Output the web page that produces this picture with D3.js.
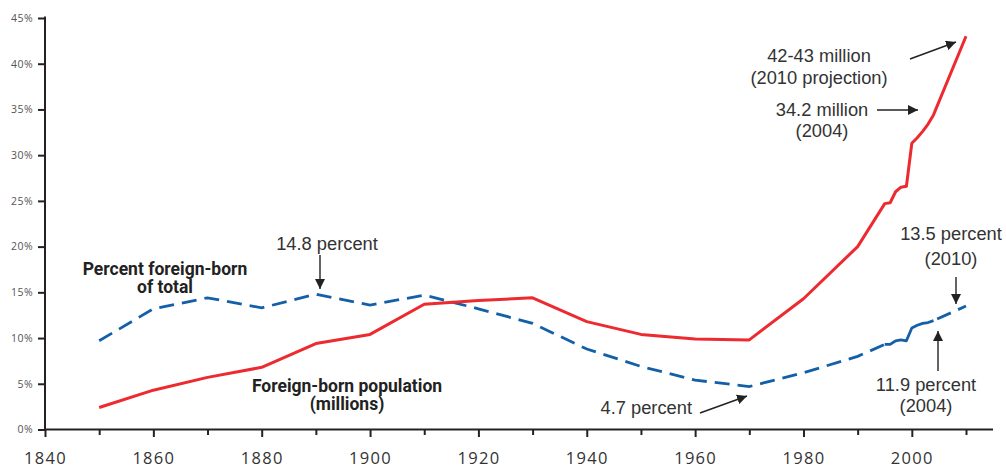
<!DOCTYPE html>
<html>
<head>
<meta charset="utf-8">
<script src="https://cdn.jsdelivr.net/npm/d3@7"></script>
<style>
  html, body { margin: 0; padding: 0; background: #fff; }
  svg { display: block; }
  .note { font-family: "Liberation Sans", Arial, sans-serif; font-size: 18.3px; fill: #333; }
  .series-label { font-family: Roboto, sans-serif; font-weight: 700; font-size: 17.5px; fill: #222; }
</style>
</head>
<body>
<svg id="chart" width="1006" height="467"></svg>
<script>
// decennial census years, then annual CPS estimates, then 2010 projection
const years = [1850, 1860, 1870, 1880, 1890, 1900, 1910, 1920, 1930, 1940, 1950, 1960, 1970, 1980, 1990,
  1995, 1996, 1997, 1998, 1999, 2000, 2001, 2002, 2003, 2004, 2010];

// foreign-born population, millions
const foreignBornMillions = [2.4, 4.3, 5.7, 6.8, 9.4, 10.4, 13.7, 14.1, 14.4, 11.8, 10.4, 9.9, 9.8, 14.3, 20.0,
  24.7, 24.8, 26.0, 26.5, 26.6, 31.3, 31.9, 32.6, 33.4, 34.4, 43.0];

// foreign-born share of total population, percent
const foreignBornPercent = [9.7, 13.2, 14.4, 13.3, 14.8, 13.6, 14.7, 13.2, 11.6, 8.8, 6.9, 5.4, 4.7, 6.2, 8.0,
  9.3, 9.3, 9.7, 9.8, 9.7, 11.1, 11.4, 11.6, 11.7, 11.9, 13.5];

// blue line is drawn solid only over the annual estimates
const solidFrom = 1995;
const solidTo = 2004;

const yTicks = [0, 5, 10, 15, 20, 25, 30, 35, 40, 45];
const xTicks = d3.range(1840, 2011, 10);

const svg = d3.select('#chart');

const x = d3.scaleLinear().domain([1840, 2010]).range([45, 966]);
const y = d3.scaleLinear().domain([0, 45]).range([429.5, 18]);

const rows = years.map((yr, i) => ({ year: yr, millions: foreignBornMillions[i], pct: foreignBornPercent[i] }));

// axes
const yAxis = d3.axisLeft(y)
  .tickValues(yTicks)
  .tickSize(7)
  .tickPadding(5)
  .tickFormat((d) => `${d}%`);

const gy = svg.append('g')
  .attr('transform', `translate(${x(1840)},0)`)
  .call(yAxis);
gy.select('.domain').remove();
gy.selectAll('.tick line').attr('stroke', '#222').attr('stroke-width', 2);
gy.selectAll('.tick text')
  .attr('fill', '#555')
  .style('font-family', '"Open Sans", sans-serif')
  .style('font-size', '10.5px')
  .style('letter-spacing', '0.4px');

const xAxis = d3.axisBottom(x)
  .tickValues(xTicks)
  .tickSize(7)
  .tickPadding(0)
  .tickFormat((d) => (d % 20 === 0 && d <= 2000 ? d : ''));

const gx = svg.append('g')
  .attr('transform', `translate(0,${y(0)})`)
  .call(xAxis);
gx.select('.domain').remove();
gx.selectAll('.tick line')
  .attr('stroke', '#222')
  .attr('stroke-width', 2)
  .attr('y2', (d) => (d % 20 === 0 ? 7.5 : 5.5));
gx.selectAll('.tick text')
  .attr('fill', '#333')
  .attr('y', 34)
  .attr('dy', 0)
  .style('font-family', '"Open Sans", sans-serif')
  .style('font-size', '16.5px')
  .style('letter-spacing', '1.3px');

// axis lines
svg.append('line')
  .attr('x1', x(1840) - 1).attr('x2', 993)
  .attr('y1', y(0)).attr('y2', y(0))
  .attr('stroke', '#222').attr('stroke-width', 2);
svg.append('line')
  .attr('x1', x(1840)).attr('x2', x(1840))
  .attr('y1', y(45) - 1.5).attr('y2', y(0))
  .attr('stroke', '#222').attr('stroke-width', 2);

// lines
const line = (key) => d3.line().x((d) => x(d.year)).y((d) => y(d[key]));

const blue = '#1460a8';
const red = '#ec2a30';

const early = rows.filter((d) => d.year <= solidFrom);
const annual = rows.filter((d) => d.year >= solidFrom && d.year <= solidTo);
const late = rows.filter((d) => d.year >= solidTo);

svg.append('path').datum(early)
  .attr('d', line('pct'))
  .attr('fill', 'none').attr('stroke', blue).attr('stroke-width', 2.8)
  .attr('stroke-dasharray', '15,8');
svg.append('path').datum(annual)
  .attr('d', line('pct'))
  .attr('fill', 'none').attr('stroke', blue).attr('stroke-width', 2.8)
  .attr('stroke-linejoin', 'round');
svg.append('path').datum(late)
  .attr('d', line('pct'))
  .attr('fill', 'none').attr('stroke', blue).attr('stroke-width', 2.8)
  .attr('stroke-dasharray', '15,8')
  .attr('stroke-dashoffset', -4);

svg.append('path').datum(rows)
  .attr('d', line('millions'))
  .attr('fill', 'none').attr('stroke', red).attr('stroke-width', 3)
  .attr('stroke-linejoin', 'round');

// arrowhead
svg.append('defs').append('marker')
  .attr('id', 'arrow')
  .attr('viewBox', '0 0 10 10')
  .attr('refX', 10).attr('refY', 5)
  .attr('markerWidth', 10).attr('markerHeight', 10)
  .attr('markerUnits', 'userSpaceOnUse')
  .attr('orient', 'auto')
  .append('path')
  .attr('d', 'M0,0 L10,5 L0,10 Z')
  .attr('fill', '#222');

// annotations (label placement in pixels)
const notes = [
  { lines: ['14.8 percent'], tx: 327, ty: [250], anchor: 'middle', from: [320, 255], to: [320, 289] },
  { lines: ['4.7 percent'], tx: 692, ty: [414], anchor: 'end', from: [700, 413], to: [747, 396] },
  { lines: ['11.9 percent', '(2004)'], tx: 926, ty: [391, 412], anchor: 'middle', from: [938, 371], to: [938, 331] },
  { lines: ['13.5 percent', '(2010)'], tx: 951, ty: [240, 265], anchor: 'middle', from: [956, 277], to: [956, 304] },
  { lines: ['34.2 million', '(2004)'], tx: 822, ty: [116, 137], anchor: 'middle', from: [877, 110], to: [918, 110] },
  { lines: ['42-43 million', '(2010 projection)'], tx: 819, ty: [62, 84], anchor: 'middle', from: [910, 59], to: [956, 42] },
];

notes.forEach((n) => {
  n.lines.forEach((t, i) => {
    svg.append('text')
      .attr('class', 'note')
      .attr('x', n.tx).attr('y', n.ty[i])
      .attr('text-anchor', n.anchor)
      .text(t);
  });
  svg.append('line')
    .attr('x1', n.from[0]).attr('y1', n.from[1])
    .attr('x2', n.to[0]).attr('y2', n.to[1])
    .attr('stroke', '#222').attr('stroke-width', 1.4)
    .attr('marker-end', 'url(#arrow)');
});

// series labels
const seriesLabels = [
  { lines: ['Percent foreign-born', 'of total'], tx: 165, ty: [275, 293] },
  { lines: ['Foreign-born population', '(millions)'], tx: 347, ty: [392, 410] },
];
seriesLabels.forEach((s) => {
  s.lines.forEach((t, i) => {
    svg.append('text')
      .attr('class', 'series-label')
      .attr('x', s.tx).attr('y', s.ty[i])
      .attr('text-anchor', 'middle')
      .text(t);
  });
});
</script>
</body>
</html>
